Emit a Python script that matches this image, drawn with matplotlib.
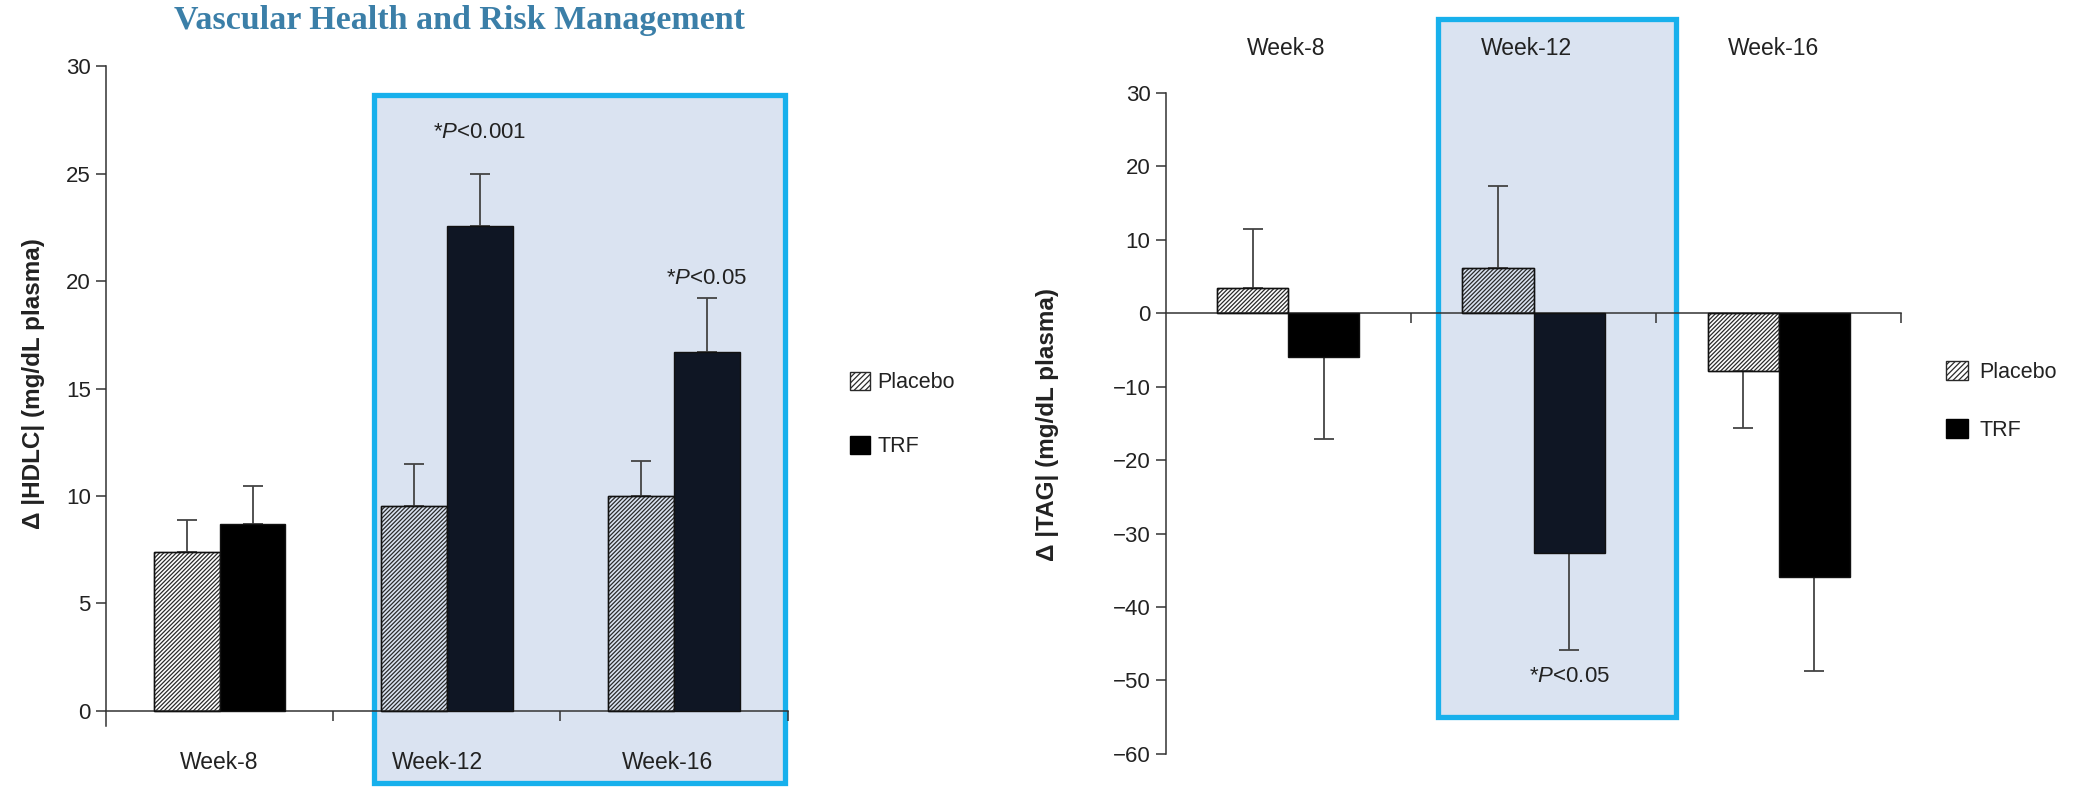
import numpy as np
import matplotlib
matplotlib.use("Agg")
import matplotlib.pyplot as plt
from matplotlib import patches

plt.rcParams['font.family'] = ['Liberation Sans', 'DejaVu Sans']
plt.rcParams['mathtext.fontset'] = 'custom'
plt.rcParams['mathtext.it'] = 'Liberation Sans:italic'
plt.rcParams['mathtext.rm'] = 'Liberation Sans'
plt.rcParams['hatch.linewidth'] = 0.9

#===Data===#
weeks = ['Week-8', 'Week-12', 'Week-16']
series = ['Placebo', 'TRF']

hdl_placebo = [7.4, 9.55, 10.0]
hdl_placebo_err = [1.5, 1.95, 1.65]
hdl_trf = [8.7, 22.55, 16.7]
hdl_trf_err = [1.75, 2.45, 2.5]
hdl_notes = ['*$P$<0.001', '*$P$<0.05']

tag_placebo = [3.4, 6.2, -7.8]
tag_placebo_err = [8.0, 11.1, 7.8]
tag_trf = [-6.0, -32.6, -35.9]
tag_trf_err = [11.1, 13.2, 12.8]
tag_note = '*$P$<0.05'

#===Styles===#
box_edge = '#17b0ec'
box_fill = '#dae3f1'
axis_col = '#333333'
text_col = '#222222'
trf_out = '#000000'
trf_in = '#0f1624'
hatch_col = '#2a2a2a'
fs = 16
bw = 0.29
dense = '////////'


def one_sided(vals, errs):
	vals = np.asarray(vals)
	errs = np.asarray(errs)
	low = np.where(vals < 0, errs, 0)
	up = np.where(vals >= 0, errs, 0)
	return [low, up]


def draw_bars(ax, pvals, perr, tvals, terr, boxed):
	x = np.arange(len(weeks)) + 0.5
	tcols = [trf_in if i in boxed else trf_out for i in range(len(weeks))]
	ax.bar(x - bw / 2, pvals, bw, facecolor='none', edgecolor=hatch_col, hatch=dense, linewidth=1.0, zorder=3)
	ax.bar(x - bw / 2, pvals, bw, facecolor='none', edgecolor='#111111', linewidth=1.0, zorder=3)
	ax.bar(x + bw / 2, tvals, bw, color=tcols, edgecolor='#111111', linewidth=1.0, zorder=3)
	ax.errorbar(x - bw / 2, pvals, yerr=one_sided(pvals, perr), fmt='none', ecolor='#444444', elinewidth=1.3, capsize=7, capthick=1.3, zorder=2)
	ax.errorbar(x + bw / 2, tvals, yerr=one_sided(tvals, terr), fmt='none', ecolor='#444444', elinewidth=1.3, capsize=7, capthick=1.3, zorder=2)
	return x


def style_axes(ax):
	ax.set_xlim(0, 3)
	ax.spines['top'].set_visible(False)
	ax.spines['right'].set_visible(False)
	ax.spines['bottom'].set_position(('data', 0))
	for s in ['left', 'bottom']:
		ax.spines[s].set_color(axis_col)
		ax.spines[s].set_linewidth(1.1)
	ax.set_xticks([1, 2, 3])
	ax.set_xticklabels([])
	ax.tick_params(axis='x', direction='out', length=7, width=1.1, color=axis_col)
	ax.tick_params(axis='y', direction='out', length=7, width=1.1, color=axis_col, labelsize=fs, labelcolor=text_col, pad=4)
	ax.patch.set_visible(False)


def add_legend(ax, anchor, pad, spacing, hlen):
	h = [patches.Patch(facecolor='white', edgecolor=hatch_col, hatch='//////', linewidth=1.0),
		 patches.Patch(facecolor='black', edgecolor='black')]
	ax.legend(h, series, loc='center left', bbox_to_anchor=anchor, frameon=False, fontsize=15.5,
			  handlelength=hlen, handleheight=hlen, handletextpad=pad, labelspacing=spacing, borderpad=0,
			  borderaxespad=0, labelcolor=text_col)


#===Create Figure===#
fig = plt.figure(figsize=(20.78, 7.87), dpi=100)

#===Left: HDLC===#
ax1 = fig.add_axes([0.051, 0.0775, 0.328, 0.8385])
ax1.set_ylim(-0.7, 30)
ax1.set_yticks(np.arange(0, 31, 5))
style_axes(ax1)
x1 = draw_bars(ax1, hdl_placebo, hdl_placebo_err, hdl_trf, hdl_trf_err, boxed=[1, 2])
ax1.add_patch(patches.Rectangle((1.18, -3.35), 1.81, 32.0, facecolor=box_fill, edgecolor=box_edge,
								linewidth=3.8, zorder=0, clip_on=False))
for xi, lab, dx in zip(x1, weeks, [0.0, -0.04, -0.03]):
	ax1.text(xi + dx, -2.4, lab, ha='center', va='center', fontsize=16.5, color=text_col)
ax1.text(x1[1] + bw / 2, 26.9, hdl_notes[0], ha='center', va='center', fontsize=fs, color=text_col)
ax1.text(x1[2] + bw / 2, 20.1, hdl_notes[1], ha='center', va='center', fontsize=fs, color=text_col)
add_legend(ax1, (1.092, 0.472), 0.35, 2.0, 0.9)

#===Right: TAG===#
ax2 = fig.add_axes([0.561, 0.042, 0.354, 0.840])
ax2.set_ylim(-60, 30)
ax2.set_yticks(np.arange(-60, 31, 10))
ax2.set_yticklabels(['\u221260', '\u221250', '\u221240', '\u221230', '\u221220', '\u221210', '0', '10', '20', '30'])
style_axes(ax2)
x2 = draw_bars(ax2, tag_placebo, tag_placebo_err, tag_trf, tag_trf_err, boxed=[1])
ax2.add_patch(patches.Rectangle((1.11, -55.0), 0.97, 95.0, facecolor=box_fill, edgecolor=box_edge,
								linewidth=3.8, zorder=0, clip_on=False))
for xi, lab, dx in zip(x2, weeks, [-0.01, -0.03, -0.02]):
	ax2.text(xi + dx, 36.1, lab, ha='center', va='center', fontsize=16.5, color=text_col)
ax2.text(x2[1] + bw / 2, -49.5, tag_note, ha='center', va='center', fontsize=fs, color=text_col)
add_legend(ax2, (1.061, 0.534), 0.55, 1.7, 1.0)

#===Labels===#
fig.text(0.016, 0.512, 'Δ |HDLC| (mg/dL plasma)', rotation=90, ha='center', va='center',
		 fontsize=17.5, fontweight='bold', color=text_col)
fig.text(0.504, 0.461, 'Δ |TAG| (mg/dL plasma)', rotation=90, ha='center', va='center',
		 fontsize=17.5, fontweight='bold', color=text_col)
fig.text(0.221, 0.974, 'Vascular Health and Risk Management', ha='center', va='center',
		 fontsize=24.5, fontweight='bold', family='Liberation Serif', color='#3b7fa8')

#===Save Figure===#
plt.savefig('out.png', dpi=100)
